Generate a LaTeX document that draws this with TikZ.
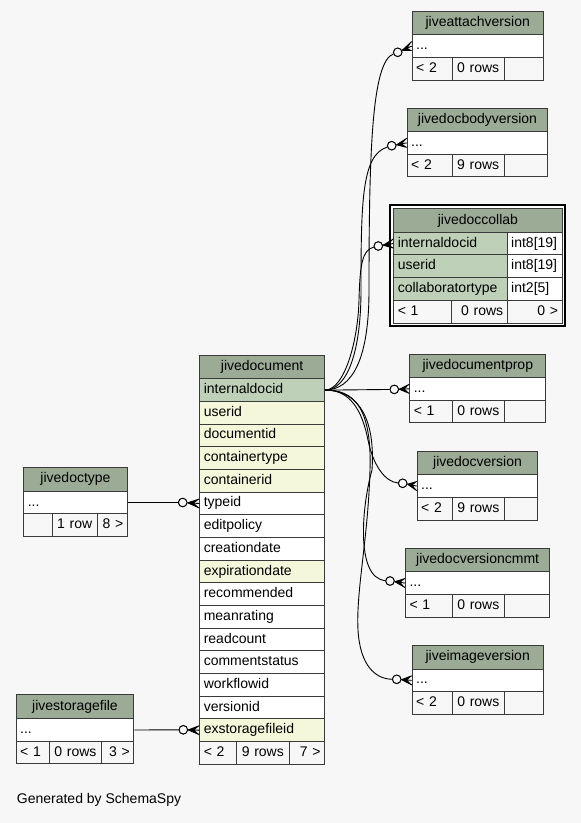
\documentclass[tikz,border=0pt]{standalone}
\usepackage{fontspec}
\setmainfont{Liberation Sans}
\usetikzlibrary{calc}
\definecolor{bgc}{HTML}{F7F7F7}
\definecolor{ttl}{HTML}{9BAB96}
\definecolor{pkc}{HTML}{BED1B8}
\definecolor{idx}{HTML}{F4F7DA}
\definecolor{lnc}{HTML}{3A3A3A}
\newcommand{\tfont}{\fontsize{14}{16}\selectfont}
\tikzset{
  cellst/.style={draw=lnc, line width=1pt, anchor=north west, inner xsep=4pt, inner ysep=0pt,
    font=\tfont, text height=10pt, text depth=3pt},
  edgest/.style={draw=black, line width=0.9pt},
  circst/.style={circle, draw=black, fill=bgc, line width=0.9pt, minimum size=8.5pt, inner sep=0pt},
  crowst/.style={fill=black},
}
% name, x, y, w, h, fill, align, text
\newcommand{\cellbox}[8]{%
  \pgfmathsetmacro{\cellw}{#4-8}%
  \node[cellst, fill=#6, text width=\cellw pt, align=#7, minimum height=#5pt] (#1) at (#2,#3) {#8};}
% name, x, y, w, title, split1, split2, footA, footB
\newcommand{\smalltbl}[9]{%
  \pgfmathsetmacro{\tya}{#3+23.5}%
  \pgfmathsetmacro{\tyb}{#3+46.2}%
  \cellbox{#1-t}{#2}{#3}{#4}{23.5}{ttl}{center}{#5}%
  \cellbox{#1-r}{#2}{\tya}{#4}{22.7}{white}{left}{...}%
  \cellbox{#1-f1}{#2}{\tyb}{#6-#2}{22.7}{bgc}{left}{#8}%
  \cellbox{#1-f2}{#6}{\tyb}{#7-#6}{22.7}{bgc}{center}{#9}%
  \cellbox{#1-f3}{#7}{\tyb}{#2+#4-#7}{22.7}{bgc}{right}{}}
% jivedocument row: index, fill, text
\newcommand{\jdrow}[3]{%
  \pgfmathsetmacro{\ry}{378.3+(#1-1)*22.67}%
  \cellbox{jd-#1}{199.3}{\ry}{124.7}{22.67}{#2}{left}{#3}}
% crow's foot: circle node, row node
\newcommand{\crow}[2]{%
  \coordinate (cA) at ($(#1.center)!5pt!(#2.west)$);
  \fill[crowst] (cA) -- ($(#2.west)+(0,-4.5)$) -- ($(cA)!0.55!(#2.west)$) -- ($(#2.west)+(0,4.5)$) -- cycle;
  \draw[edgest] (cA) -- (#2.west);
  \draw[edgest] (cA) -- ($(#2.west)+(0,-4.5)$);
  \draw[edgest] (cA) -- ($(#2.west)+(0,4.5)$);}
\begin{document}
\begin{tikzpicture}[x=1pt,y=-1pt]
\useasboundingbox (0,0) rectangle (581,823);
\fill[bgc] (0,0) rectangle (581,823);

% right-hand tables
\smalltbl{at}{411.7}{10.7}{131}{jiveattachversion}{451.7}{503.7}{< 2}{0 rows}
\smalltbl{bo}{406.7}{107.5}{140.6}{jivedocbodyversion}{451.7}{503.7}{< 2}{9 rows}
\smalltbl{pr}{409.3}{353.5}{136}{jivedocumentprop}{451.7}{504}{< 1}{0 rows}
\smalltbl{dv}{416.7}{450.7}{120.6}{jivedocversion}{451.7}{504}{< 2}{9 rows}
\smalltbl{cm}{405}{547.7}{144.3}{jivedocversioncmmt}{451.7}{504}{< 1}{0 rows}
\smalltbl{im}{411.7}{645}{131}{jiveimageversion}{451.7}{504}{< 2}{0 rows}

% jivedoccollab
\draw[line width=2pt, draw=black, fill=white] (389.6,205) rectangle (565,325.6);
\cellbox{co-t}{393.3}{208.3}{168.2}{23.4}{ttl}{center}{jivedoccollab}
\cellbox{co-1}{393.3}{231.7}{113.4}{22.7}{pkc}{left}{internaldocid}
\cellbox{co-1t}{506.7}{231.7}{54.8}{22.7}{white}{left}{int8[19]}
\cellbox{co-2}{393.3}{254.4}{113.4}{22.7}{pkc}{left}{userid}
\cellbox{co-2t}{506.7}{254.4}{54.8}{22.7}{white}{left}{int8[19]}
\cellbox{co-3}{393.3}{277.1}{113.4}{22.7}{pkc}{left}{collaboratortype}
\cellbox{co-3t}{506.7}{277.1}{54.8}{22.7}{white}{left}{int2[5]}
\cellbox{co-f1}{393.3}{299.8}{57.4}{22.7}{bgc}{left}{< 1}
\cellbox{co-f2}{450.7}{299.8}{56}{22.7}{bgc}{right}{0 rows}
\cellbox{co-f3}{506.7}{299.8}{54.8}{22.7}{bgc}{right}{0 >}

% jivedocument
\cellbox{jd-t}{199.3}{355}{124.7}{23.3}{ttl}{center}{jivedocument}
\jdrow{1}{pkc}{internaldocid}
\jdrow{2}{idx}{userid}
\jdrow{3}{idx}{documentid}
\jdrow{4}{idx}{containertype}
\jdrow{5}{idx}{containerid}
\jdrow{6}{white}{typeid}
\jdrow{7}{white}{editpolicy}
\jdrow{8}{white}{creationdate}
\jdrow{9}{idx}{expirationdate}
\jdrow{10}{white}{recommended}
\jdrow{11}{white}{meanrating}
\jdrow{12}{white}{readcount}
\jdrow{13}{white}{commentstatus}
\jdrow{14}{white}{workflowid}
\jdrow{15}{white}{versionid}
\jdrow{16}{idx}{exstoragefileid}
\cellbox{jd-f1}{199.3}{741}{36.7}{23}{bgc}{left}{< 2}
\cellbox{jd-f2}{236}{741}{52.7}{23}{bgc}{center}{9 rows}
\cellbox{jd-f3}{288.7}{741}{35.3}{23}{bgc}{right}{7 >}

% jivedoctype
\cellbox{dt-t}{23.3}{466.7}{103.4}{24}{ttl}{center}{jivedoctype}
\cellbox{dt-r}{23.3}{490.7}{103.4}{22.6}{white}{left}{...}
\cellbox{dt-f1}{23.3}{513.3}{28.4}{22.7}{bgc}{left}{}
\cellbox{dt-f2}{51.7}{513.3}{45}{22.7}{bgc}{center}{1 row}
\cellbox{dt-f3}{96.7}{513.3}{30}{22.7}{bgc}{right}{8 >}

% jivestoragefile
\cellbox{sf-t}{15.7}{694.3}{117.6}{24}{ttl}{center}{jivestoragefile}
\cellbox{sf-r}{15.7}{718.3}{117.6}{22.4}{white}{left}{...}
\cellbox{sf-f1}{15.7}{740.7}{33.3}{22.7}{bgc}{left}{< 1}
\cellbox{sf-f2}{49}{740.7}{52}{22.7}{bgc}{center}{0 rows}
\cellbox{sf-f3}{101}{740.7}{32.3}{22.7}{bgc}{right}{3 >}

% connectors from jivedocument.internaldocid
\node[circst] (c-at) at (397.7,52.3) {};
\node[circst] (c-bo) at (391.7,145.7) {};
\node[circst] (c-co) at (378.3,246) {};
\node[circst] (c-pr) at (394.3,389.4) {};
\node[circst] (c-dv) at (402.7,483.3) {};
\node[circst] (c-cm) at (390,581) {};
\node[circst] (c-im) at (396.7,679.3) {};
\node[circst] (c-dt) at (182.7,502.5) {};
\node[circst] (c-sf) at (183.3,729.8) {};

\draw[edgest] (jd-1.east) .. controls (352,389.6) and (369,360) .. (369,290)
  .. controls (369,150) and (372,62) .. (c-at);
\draw[edgest] (jd-1.east) .. controls (348,389.6) and (361,350) .. (361,290)
  .. controls (361,200) and (362,155) .. (c-bo);
\draw[edgest] (jd-1.east) .. controls (345,389.6) and (358,340) .. (359,300)
  .. controls (360,265) and (362,250) .. (c-co);
\draw[edgest] (jd-1.east) -- (c-pr);
\draw[edgest] (jd-1.east) .. controls (350,389.6) and (362,410) .. (368,440)
  .. controls (373,465) and (385,482) .. (c-dv);
\draw[edgest] (jd-1.east) .. controls (352,389.6) and (376,410) .. (372,470)
  .. controls (362,505) and (355,578) .. (c-cm);
\draw[edgest] (jd-1.east) .. controls (352,389.6) and (372,405) .. (370,470)
  .. controls (368,540) and (356,590) .. (358,630)
  .. controls (360,665) and (375,679) .. (c-im);
\draw[edgest] (dt-r.east) -- (c-dt);
\draw[edgest] (sf-r.east) -- (c-sf);

\crow{c-at}{at-r}
\crow{c-bo}{bo-r}
\crow{c-co}{co-1}
\crow{c-pr}{pr-r}
\crow{c-dv}{dv-r}
\crow{c-cm}{cm-r}
\crow{c-im}{im-r}
\crow{c-dt}{jd-6}
\crow{c-sf}{jd-16}

% redraw circles on top
\foreach \cc in {c-at,c-bo,c-co,c-pr,c-dv,c-cm,c-im,c-dt,c-sf}{
  \draw[edgest, fill=bgc] (\cc.center) circle[radius=4.25pt];
}

\node[anchor=west, inner sep=0pt, font=\tfont] (gen) at (16.7,800) {Generated by SchemaSpy};
\end{tikzpicture}
\end{document}
